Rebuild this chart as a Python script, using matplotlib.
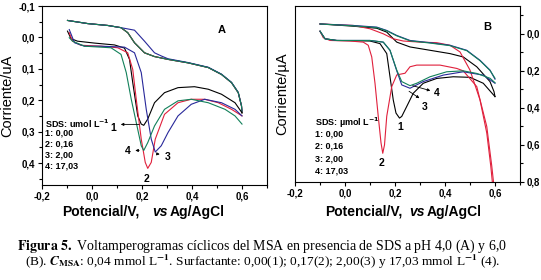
import matplotlib
matplotlib.use('Agg')
import matplotlib.pyplot as plt
import numpy as np

plt.rcParams.update({'font.family': 'Liberation Sans', 'font.weight': 'bold',
                     'font.size': 7, 'mathtext.fontset': 'stix'})

# ---- panel A (pH 4,0): (potential V, current uA) ----
upA = [(-0.098, -0.054), (-0.017, -0.044), (0.063, -0.038), (0.116, -0.031), (0.143, -0.015),
       (0.170, 0.017), (0.21, 0.049), (0.25, 0.061), (0.304, 0.070), (0.384, 0.081),
       (0.465, 0.096), (0.518, 0.118), (0.558, 0.144), (0.585, 0.176), (0.598, 0.218), (0.6, 0.24)]
upA_blue = [(-0.098, -0.054), (-0.017, -0.044), (0.063, -0.038), (0.116, -0.031), (0.17, -0.023),
            (0.21, 0.012), (0.25, 0.049), (0.277, 0.059), (0.304, 0.068), (0.384, 0.080),
            (0.465, 0.095), (0.518, 0.117), (0.558, 0.143), (0.585, 0.175), (0.598, 0.218), (0.6, 0.235)]
lowA_1 = [(-0.098, -0.02), (-0.084, 0.004), (-0.058, 0.012), (0.009, 0.018), (0.09, 0.024),
          (0.13, 0.034), (0.15, 0.07), (0.163, 0.144), (0.183, 0.25), (0.197, 0.276), (0.207, 0.28),
          (0.223, 0.26), (0.25, 0.208), (0.29, 0.176), (0.344, 0.16), (0.41, 0.157), (0.465, 0.165),
          (0.518, 0.181), (0.572, 0.208), (0.6, 0.24)]
lowA_2 = [(-0.091, -0.015), (-0.078, 0.012), (-0.045, 0.025), (0.036, 0.028), (0.103, 0.033),
          (0.143, 0.049), (0.163, 0.102), (0.177, 0.197), (0.197, 0.324), (0.213, 0.398), (0.223, 0.417),
          (0.237, 0.398), (0.253, 0.324), (0.29, 0.245), (0.344, 0.208), (0.397, 0.197), (0.451, 0.197),
          (0.505, 0.208), (0.558, 0.229), (0.6, 0.25)]
lowA_3 = [(-0.091, -0.025), (-0.07, 0.017), (-0.03, 0.028), (0.036, 0.028), (0.13, 0.031),
          (0.17, 0.049), (0.197, 0.112), (0.217, 0.229), (0.237, 0.324), (0.253, 0.365), (0.277, 0.345),
          (0.304, 0.303), (0.344, 0.25), (0.397, 0.213), (0.451, 0.197), (0.518, 0.208), (0.572, 0.229),
          (0.6, 0.25)]
lowA_4 = [(-0.091, 0.001), (-0.078, 0.012), (-0.03, 0.028), (0.076, 0.033), (0.116, 0.054),
          (0.137, 0.112), (0.157, 0.197), (0.177, 0.271), (0.197, 0.345), (0.207, 0.36), (0.223, 0.335),
          (0.25, 0.282), (0.29, 0.229), (0.344, 0.202), (0.397, 0.197), (0.465, 0.208), (0.532, 0.229),
          (0.572, 0.25), (0.6, 0.276)]

# ---- panel B (pH 6,0) ----
upB_1 = [(-0.1, -0.053), (0.033, -0.041), (0.127, -0.030), (0.167, -0.009), (0.207, 0.045),
         (0.26, 0.071), (0.34, 0.089), (0.42, 0.107), (0.473, 0.125), (0.527, 0.178), (0.58, 0.258),
         (0.596, 0.312), (0.6, 0.339)]
lowB_1 = [(-0.1, -0.014), (-0.08, 0.027), (-0.033, 0.036), (0.1, 0.039), (0.14, 0.053), (0.167, 0.107),
          (0.18, 0.232), (0.193, 0.357), (0.204, 0.428), (0.218, 0.455), (0.227, 0.446), (0.247, 0.392),
          (0.273, 0.321), (0.313, 0.267), (0.367, 0.241), (0.433, 0.232), (0.5, 0.235), (0.553, 0.267),
          (0.6, 0.339)]
upB_2 = [(-0.1, -0.053), (0.033, -0.045), (0.1, -0.027), (0.153, 0.0), (0.193, 0.027), (0.233, 0.039),
         (0.3, 0.045), (0.367, 0.048), (0.42, 0.062), (0.46, 0.098), (0.5, 0.196), (0.54, 0.357),
         (0.567, 0.535), (0.583, 0.713), (0.593, 0.85)]
lowB_2 = [(-0.1, -0.014), (-0.087, 0.021), (-0.06, 0.036), (0.02, 0.039), (0.073, 0.045), (0.093, 0.062),
          (0.107, 0.125), (0.12, 0.267), (0.133, 0.446), (0.144, 0.588), (0.151, 0.645), (0.158, 0.6),
          (0.167, 0.445), (0.187, 0.285), (0.207, 0.222), (0.24, 0.213), (0.26, 0.178), (0.287, 0.169),
          (0.38, 0.169), (0.447, 0.187), (0.473, 0.2), (0.527, 0.285), (0.567, 0.5), (0.587, 0.713),
          (0.598, 0.85)]
upB_3 = [(-0.1, -0.053), (0.033, -0.045), (0.127, -0.036), (0.167, -0.018), (0.207, 0.009), (0.26, 0.036),
         (0.34, 0.048), (0.42, 0.062), (0.487, 0.089), (0.54, 0.143), (0.58, 0.196), (0.6, 0.245)]
lowB_3 = [(-0.1, -0.014), (-0.08, 0.027), (-0.033, 0.036), (0.1, 0.036), (0.153, 0.045), (0.18, 0.089),
          (0.207, 0.2), (0.227, 0.276), (0.26, 0.294), (0.313, 0.258), (0.393, 0.223), (0.473, 0.205),
          (0.553, 0.223), (0.6, 0.267)]
upB_4 = [(-0.1, -0.053), (0.033, -0.043), (0.127, -0.034), (0.167, -0.016), (0.207, 0.011), (0.26, 0.038),
         (0.34, 0.050), (0.42, 0.064), (0.487, 0.091), (0.54, 0.145), (0.58, 0.198), (0.6, 0.24)]
lowB_4 = [(-0.1, -0.014), (-0.08, 0.027), (-0.033, 0.036), (0.1, 0.036), (0.153, 0.045), (0.18, 0.089),
          (0.207, 0.196), (0.227, 0.258), (0.26, 0.28), (0.287, 0.267), (0.34, 0.232), (0.407, 0.205),
          (0.473, 0.2), (0.527, 0.214), (0.58, 0.24), (0.6, 0.264)]

colors = ['black', '#e0203c', '#28289a', '#12805a']
legend_lines = ['1: 0,00', '2: 0,16', '3: 2,00', '4: 17,03']
xticks = [-0.2, 0.0, 0.2, 0.4, 0.6]
xticklabels = ['-0,2', '0,0', '0,2', '0,4', '0,6']
yticksA = [-0.1, 0.0, 0.1, 0.2, 0.3, 0.4]
yticklabelsA = ['-0,1', '0,0', '0,1', '0,2', '0,3', '0,4']
yticksB = [0.0, 0.2, 0.4, 0.6, 0.8]
yticklabelsB = ['0,0', '0,2', '0,4', '0,6', '0,8']

W, H = 541, 280
fig = plt.figure(figsize=(W / 100, H / 100), dpi=100)
axA = fig.add_axes([42 / W, 1 - 185 / H, 225 / W, 179 / H])
axB = fig.add_axes([295 / W, 1 - 182 / H, 225 / W, 176 / H])


def draw(ax, seg, c):
    a = np.array(seg)
    ax.plot(a[:, 0], a[:, 1], color=c, lw=0.8)


for seg, c in [(upA, colors[0]), (upA, colors[1]), (upA_blue, colors[2]), (upA, colors[3]),
               (lowA_1, colors[0]), (lowA_2, colors[1]), (lowA_3, colors[2]), (lowA_4, colors[3])]:
    draw(axA, seg, c)
for seg, c in [(upB_1, colors[0]), (lowB_1, colors[0]), (upB_2, colors[1]), (lowB_2, colors[1]),
               (upB_3, colors[2]), (lowB_3, colors[2]), (upB_4, colors[3]), (lowB_4, colors[3])]:
    draw(axB, seg, c)

for ax in (axA, axB):
    ax.set_xlim(-0.2, 0.7)
    ax.set_xticks(xticks)
    ax.set_xticklabels(xticklabels)
    ax.set_xticks([-0.1, 0.1, 0.3, 0.5, 0.7], minor=True)
    ax.tick_params(which='both', direction='out', labelsize=7, width=0.8, pad=2)
    ax.tick_params(which='major', length=3)
    ax.tick_params(which='minor', length=2)
    for s in ax.spines.values():
        s.set_linewidth(0.8)

axA.set_ylim(0.47, -0.1)
axA.set_yticks(yticksA)
axA.set_yticklabels(yticklabelsA)
axA.set_yticks([-0.05, 0.05, 0.15, 0.25, 0.35, 0.45], minor=True)
axA.set_ylabel('Corriente/uA', fontsize=10.5, labelpad=3)

axB.set_ylim(0.8, -0.15)
axB.yaxis.tick_right()
axB.set_yticks(yticksB)
axB.set_yticklabels(yticklabelsB)
axB.set_yticks([-0.1, 0.1, 0.3, 0.5, 0.7], minor=True)
axB.yaxis.set_label_position('left')
axB.set_ylabel('Corriente/\u00b5A', fontsize=10.5, labelpad=4)

# legend-like text blocks
axA.text(-0.188, 0.274, 'SDS: umol L$^{\\mathbf{-1}}$', fontsize=6.5, va='center', math_fontfamily='dejavusans')
for i, t in enumerate(legend_lines):
    axA.text(-0.188, 0.306 + 0.035 * i, t, fontsize=6.5, va='center')
axB.text(-0.12, 0.478, 'SDS: \u00b5mol L$^{\\mathbf{-1}}$', fontsize=6.5, va='center', math_fontfamily='dejavusans')
for i, t in enumerate(legend_lines):
    axB.text(-0.12, 0.542 + 0.066 * i, t, fontsize=6.5, va='center')

axA.text(0.52, -0.023, 'A', fontsize=8, ha='center', va='center')
axB.text(0.568, -0.039, 'B', fontsize=8, ha='center', va='center')

arr = dict(arrowstyle='-|>', color='black', lw=0.6, mutation_scale=4)
axA.annotate('', xy=(0.104, 0.277), xytext=(0.2, 0.277), arrowprops=arr)
axA.text(0.086, 0.29, '1', fontsize=7.5, ha='center', va='center')
axA.annotate('', xy=(0.162, 0.36), xytext=(0.2, 0.36), arrowprops=arr)
axA.text(0.144, 0.363, '4', fontsize=7.5, ha='center', va='center')
axA.annotate('', xy=(0.282, 0.373), xytext=(0.25, 0.37), arrowprops=arr)
axA.text(0.302, 0.38, '3', fontsize=7.5, ha='center', va='center')
axA.text(0.22, 0.45, '2', fontsize=7.5, ha='center', va='center')

axB.annotate('', xy=(0.307, 0.356), xytext=(0.247, 0.302), arrowprops=arr)
axB.text(0.32, 0.393, '3', fontsize=7.5, ha='center', va='center')
axB.annotate('', xy=(0.352, 0.311), xytext=(0.26, 0.276), arrowprops=arr)
axB.text(0.367, 0.32, '4', fontsize=7.5, ha='center', va='center')
axB.text(0.22, 0.505, '1', fontsize=7.5, ha='center', va='center')
axB.text(0.147, 0.697, '2', fontsize=7.5, ha='center', va='center')

# x labels with italic "vs"
for x0, xv, xa in [(62, 152, 170), (325, 409, 427)]:
    fig.text(x0 / W, 1 - 212 / H, 'Potencial/V,', fontsize=10, va='center')
    fig.text(xv / W, 1 - 212 / H, 'vs', fontsize=10, va='center', style='italic')
    fig.text(xa / W, 1 - 212 / H, 'Ag/AgCl', fontsize=10, va='center')

# caption
fig.text(262 / W, 1 - 246 / H,
         r'$\mathbf{Figura\ 5.}$ Voltamperogramas cíclicos del MSA en presencia de SDS a pH 4,0 (A) y 6,0',
         family='Liberation Serif', weight='normal', fontsize=10, ha='center', va='center')
fig.text(263 / W, 1 - 262 / H,
         r'(B). $C_{\mathrm{MSA}}$: 0,04 mmol L$^{-1}$. Surfactante: 0,00(1); 0,17(2); 2,00(3) y 17,03 mmol L$^{-1}$ (4).',
         family='Liberation Serif', weight='normal', fontsize=9.6, ha='center', va='center')

fig.savefig('out.png', dpi=100)
